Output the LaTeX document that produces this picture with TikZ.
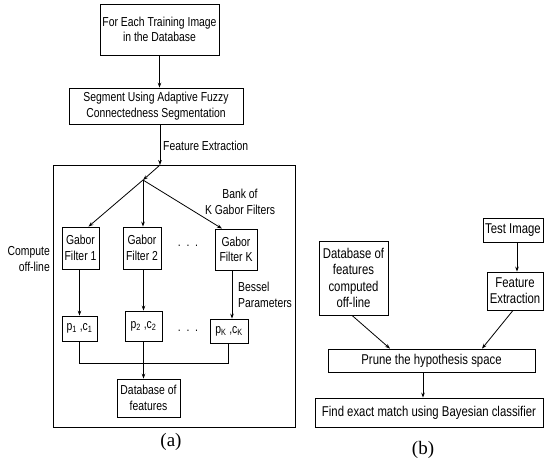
\documentclass[tikz,border=0pt]{standalone}
\usepackage{fontspec}
\setmainfont{Liberation Sans}[FakeStretch=0.8]
\newfontfamily\capfont{Liberation Serif}
\usetikzlibrary{arrows.meta,calc}
\begin{document}
\begin{tikzpicture}[x=1pt,y=-1pt,
  every node/.style={font=\fontsize{13}{15.5}\selectfont, inner sep=0pt, align=center},
  box/.style={draw, line width=0.8pt},
  bbox/.style={box, font=\fontsize{14.2}{16.3}\selectfont},
  conn/.style={line width=0.8pt},
  arr/.style={conn, -{Stealth[length=5pt,width=3.6pt]}},
  lbl/.style={font=\fontsize{13}{16}\selectfont},
  captxt/.style={font=\capfont\fontsize{19}{19}\selectfont}]
\useasboundingbox (0,0) rectangle (544,467);

% ---------- panel (a) ----------
\node[box, minimum width=119pt, minimum height=51pt] (n1) at (159.5,29.5)
  {For Each Training Image\\in the Database};
\node[box, minimum width=174pt, minimum height=36pt] (n2) at (156,106)
  {Segment Using Adaptive Fuzzy\\Connectedness Segmentation};
\node[box, minimum width=242pt, minimum height=262pt] (big) at (174,296) {};
\coordinate (ftop) at (160,165);
\coordinate (br) at (143,180);

\node[box, minimum width=37pt, minimum height=42pt] (g1) at (80.5,248) {Gabor\\Filter 1};
\node[box, minimum width=38pt, minimum height=42pt] (g2) at (142,248) {Gabor\\Filter 2};
\node[box, minimum width=42pt, minimum height=41pt] (gK) at (236,249.5) {Gabor\\Filter K};
\node (d1) at (188,246) {.\ \ .\ \ .};

\node[box, minimum width=35pt, minimum height=25pt] (p1) at (79.5,328.5) {p\textsubscript{1} ,c\textsubscript{1}};
\node[box, minimum width=37pt, minimum height=30pt] (p2) at (143.5,326) {p\textsubscript{2} ,c\textsubscript{2}};
\node[box, minimum width=38pt, minimum height=24pt] (pK) at (229,331) {p\textsubscript{K} ,c\textsubscript{K}};
\node (d2) at (188,331) {.\ \ .\ \ .};

\node[box, minimum width=63pt, minimum height=38pt] (db) at (148.5,398) {Database of\\features};

\node[lbl, anchor=west] (fx) at (163,146) {Feature Extraction};
\node[lbl] (bank) at (240,201.5) {Bank of\\K Gabor Filters};
\node[lbl, align=right, anchor=east] (comp) at (50,259.5) {Compute\\off-line};
\node[lbl, align=left, anchor=west] (bes) at (238,295) {Bessel\\Parameters};
\node[captxt] (ca) at (171,442) {(a)};

\draw[arr] (n1.south) -- (n2.north -| n1.south);
\draw[arr] (n2.south -| ftop) -- (ftop);
\draw[arr] (ftop) -- (br);
\draw[arr] (br) -- ([xshift=8pt]g1.north);
\draw[arr] (br) -- (g2.north -| br);
\draw[arr] (br) -- ([xshift=-14pt]gK.north);
\draw[arr] (g1.south -| p1.south) -- (p1.north);
\draw[arr] (g2.south -| p2.south) -- (p2.north);
\draw[arr] ([xshift=-4pt]gK.south) -- ([xshift=-4pt]gK.south |- pK.north);
\coordinate (jl) at (79.5,363);
\coordinate (jr) at (228,363);
\draw[conn] (p1.south) -- (jl) -- (jr) -- (jr |- pK.south);
\draw[arr] (p2.south) -- (p2.south |- db.north);

% ---------- panel (b) ----------
\node[bbox, minimum width=60pt, minimum height=24pt] (ti) at (513,230) {Test Image};
\node[bbox, minimum width=56pt, minimum height=38pt] (fe) at (515,291) {Feature\\Extraction};
\node[bbox, minimum width=69pt, minimum height=74pt] (dbo) at (353.5,278)
  {Database of\\features\\computed\\off-line};
\node[bbox, minimum width=207pt, minimum height=23pt] (pr) at (431.5,360.5) {Prune the hypothesis space};
\node[bbox, minimum width=228pt, minimum height=29pt] (fm) at (429,412.5) {Find exact match using Bayesian classifier};
\node[captxt] (cb) at (423,450) {(b)};

\draw[arr] ([xshift=4pt]ti.south) -- ([xshift=4pt]ti.south |- fe.north);
\draw[arr] ([xshift=-1.5pt]dbo.south) -- ([xshift=-41.5pt]pr.north);
\draw[arr] ([xshift=-2pt]fe.south) -- ([xshift=50.5pt]pr.north);
\draw[arr] ([xshift=-8.5pt]pr.south) -- ([xshift=-8.5pt]pr.south |- fm.north);
\end{tikzpicture}
\end{document}
